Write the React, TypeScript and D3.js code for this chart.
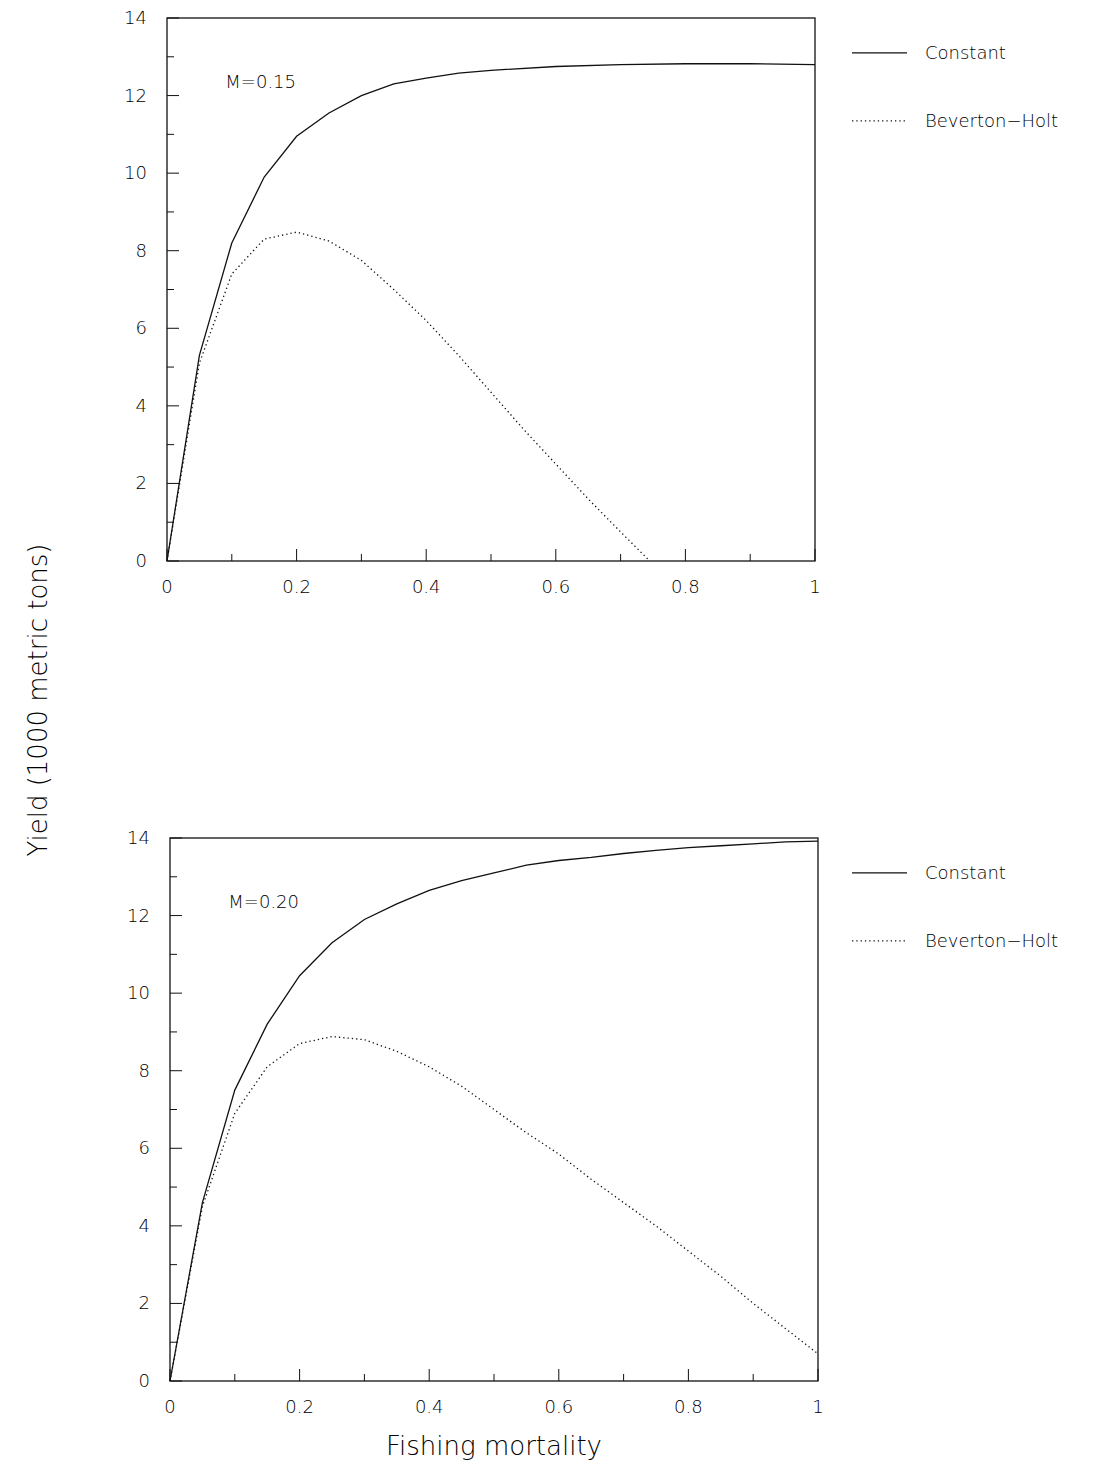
import React from 'react';
import * as d3 from 'd3';

const fTop = [0, 0.05, 0.1, 0.15, 0.2, 0.25, 0.3, 0.35, 0.4, 0.45, 0.5, 0.6, 0.7, 0.8, 0.9, 1];
const constTop = [0, 5.3, 8.2, 9.9, 10.95, 11.55, 12.0, 12.3, 12.45, 12.58, 12.65, 12.75, 12.8, 12.82, 12.82, 12.8];
const fBhTop = [0, 0.05, 0.1, 0.15, 0.2, 0.25, 0.3, 0.35, 0.4, 0.45, 0.5, 0.55, 0.6, 0.65, 0.7, 0.745];
const bhTop = [0, 5.1, 7.4, 8.3, 8.48, 8.25, 7.75, 7.0, 6.2, 5.3, 4.35, 3.4, 2.5, 1.6, 0.75, 0];

const fBot = [0, 0.05, 0.1, 0.15, 0.2, 0.25, 0.3, 0.35, 0.4, 0.45, 0.5, 0.55, 0.6, 0.65, 0.7, 0.75, 0.8, 0.85, 0.9, 0.95, 1];
const constBot = [0, 4.6, 7.5, 9.2, 10.45, 11.3, 11.9, 12.3, 12.65, 12.9, 13.1, 13.3, 13.42, 13.5, 13.6, 13.68, 13.75, 13.8, 13.85, 13.9, 13.92];
const bhBot = [0, 4.5, 6.9, 8.1, 8.7, 8.88, 8.8, 8.5, 8.1, 7.6, 7.0, 6.4, 5.85, 5.2, 4.6, 4.0, 3.35, 2.7, 2.0, 1.35, 0.7];

const xTicks = [0, 0.2, 0.4, 0.6, 0.8, 1];
const yTicks = [0, 2, 4, 6, 8, 10, 12, 14];

const font = "'DejaVu Sans', sans-serif";

type PanelProps = {
  left: number; top: number; right: number; bottom: number;
  label: string;
  cf: number[]; cy: number[]; bf: number[]; by: number[];
};

const Panel = ({ left, top, right, bottom, label, cf, cy, bf, by }: PanelProps) => {
  const x = d3.scaleLinear().domain([0, 1]).range([left, right]);
  const y = d3.scaleLinear().domain([0, 14]).range([bottom, top]);
  const line = d3.line<[number, number]>().x(d => x(d[0])).y(d => y(d[1]));
  const cPath = line(cf.map((f, i) => [f, cy[i]]) as [number, number][]) || '';
  const bPath = line(bf.map((f, i) => [f, by[i]]) as [number, number][]) || '';
  const minorX = d3.range(0, 1.001, 0.1);
  const minorY = d3.range(0, 14.001, 1);
  const legY1 = y(13.1);
  const legY2 = y(11.35);
  return (
    <g fontFamily={font} fill="#000">
      <rect x={left} y={top} width={right - left} height={bottom - top} fill="none" stroke="#111" strokeWidth={1.3} />
      {minorX.map((t, i) => (
        <line key={'mx' + i} x1={x(t)} x2={x(t)} y1={bottom} y2={bottom - (i % 2 === 0 ? 12 : 7)} stroke="#111" />
      ))}
      {minorY.map((t, i) => (
        <line key={'my' + i} x1={left} x2={left + (i % 2 === 0 ? 12 : 7)} y1={y(t)} y2={y(t)} stroke="#111" />
      ))}
      {xTicks.map(t => (
        <text key={'xt' + t} x={x(t)} y={bottom + 32} textAnchor="middle" fontSize={18} fontWeight={300}>{t}</text>
      ))}
      {yTicks.map(t => (
        <text key={'yt' + t} x={left - 20} y={y(t) + 6} textAnchor="end" fontSize={18} fontWeight={300}>{t}</text>
      ))}
      <path d={cPath} fill="none" stroke="#111" strokeWidth={1.3} />
      <path d={bPath} fill="none" stroke="#111" strokeWidth={1.3} strokeDasharray="1.3,3" />
      <text x={x(0.09)} y={y(12.2)} fontSize={18} fontWeight={300}>{label}</text>
      <line x1={852} x2={907} y1={legY1} y2={legY1} stroke="#111" strokeWidth={1.3} />
      <text x={925} y={legY1 + 6} fontSize={18} fontWeight={300}>Constant</text>
      <line x1={852} x2={907} y1={legY2} y2={legY2} stroke="#111" strokeWidth={1.3} strokeDasharray="1.3,3" />
      <text x={925} y={legY2 + 6} fontSize={18} fontWeight={300}>Beverton−Holt</text>
    </g>
  );
};

export default function App() {
  return (
    <svg width={1095} height={1473} style={{ display: 'block', margin: -8, background: '#fff' }}>
      <Panel left={167} top={18} right={815} bottom={561} label="M=0.15" cf={fTop} cy={constTop} bf={fBhTop} by={bhTop} />
      <Panel left={170} top={838} right={818} bottom={1381} label="M=0.20" cf={fBot} cy={constBot} bf={fBot} by={bhBot} />
      <text transform="translate(47,700) rotate(-90)" textAnchor="middle" fontFamily={font} fontSize={26} fontWeight={300} fill="#000">Yield (1000 metric tons)</text>
      <text x={494} y={1455} textAnchor="middle" fontFamily={font} fontSize={26} fontWeight={300} fill="#000">Fishing mortality</text>
    </svg>
  );
}
